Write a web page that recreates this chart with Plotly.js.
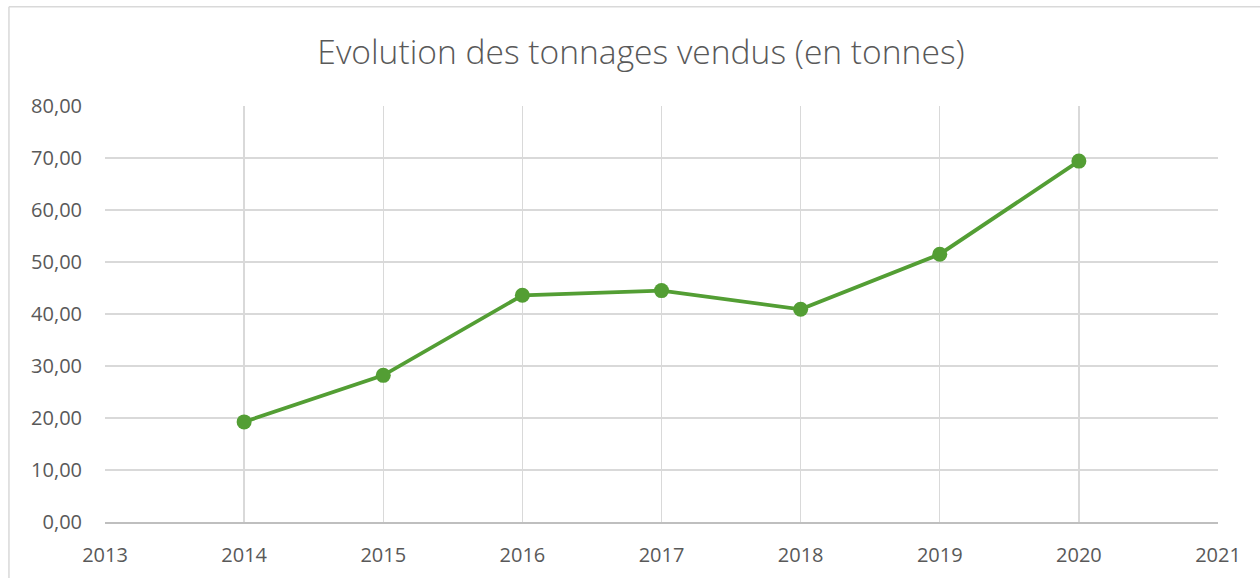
<!DOCTYPE html>
<html>
<head>
<meta charset="utf-8">
<script src="https://cdn.plot.ly/plotly-3.0.1.min.js"></script>
<style>
html,body{margin:0;padding:0;background:#fff;}
#chart{width:1260px;height:578px;}
</style>
</head>
<body>
<div id="chart"></div>
<script>
var years = [2014, 2015, 2016, 2017, 2018, 2019, 2020];
var tonnages = [19.25, 28.2, 43.6, 44.5, 40.9, 51.5, 69.4];
var chartTitle = "Evolution des tonnages vendus (en tonnes)";

var trace = {
  x: years,
  y: tonnages,
  type: 'scatter',
  mode: 'lines+markers',
  line: {color: '#539E34', width: 3.8},
  marker: {color: '#539E34', size: 15},
  hoverinfo: 'x+y'
};

var fontFam = '"Open Sans", "Noto Sans", sans-serif';
var layout = {
  width: 1260,
  height: 578,
  margin: {l: 105, r: 42, t: 106, b: 56, pad: 0},
  paper_bgcolor: '#ffffff',
  plot_bgcolor: '#ffffff',
  separators: ',.',
  showlegend: false,
  title: {
    text: chartTitle,
    font: {family: fontFam, size: 33.6, color: '#595959', weight: 300},
    x: 0.4816, xref: 'paper', xanchor: 'center',
    y: 0.91, yref: 'container', yanchor: 'middle'
  },
  xaxis: {
    range: [2013, 2021],
    dtick: 1,
    tick0: 2013,
    tickformat: 'd',
    showgrid: true,
    gridcolor: '#d9d9d9',
    gridwidth: 1.3,
    zeroline: false,
    showline: true,
    linecolor: '#bfbfbf',
    linewidth: 1.5,
    ticks: '',
    ticklabelstandoff: 14,
    tickfont: {family: fontFam, size: 20, color: '#595959'}
  },
  yaxis: {
    range: [0, 80],
    dtick: 10,
    tickformat: '.2f',
    showgrid: true,
    gridcolor: '#d9d9d9',
    gridwidth: 1.3,
    zeroline: false,
    showline: false,
    ticks: '',
    ticklabelstandoff: 22,
    tickfont: {family: fontFam, size: 20, color: '#595959'}
  },
  shapes: [
    {type: 'line', xref: 'paper', yref: 'paper', x0: -0.0863, x1: 1.2, y0: 1.2385, y1: 1.2385,
     line: {color: '#d9d9d9', width: 1.5}},
    {type: 'line', xref: 'paper', yref: 'paper', x0: -0.0863, x1: -0.0863, y0: 1.2385, y1: -0.2,
     line: {color: '#d9d9d9', width: 1.5}}
  ]
};

Plotly.newPlot('chart', [trace], layout, {displayModeBar: false, staticPlot: true});
</script>
</body>
</html>
